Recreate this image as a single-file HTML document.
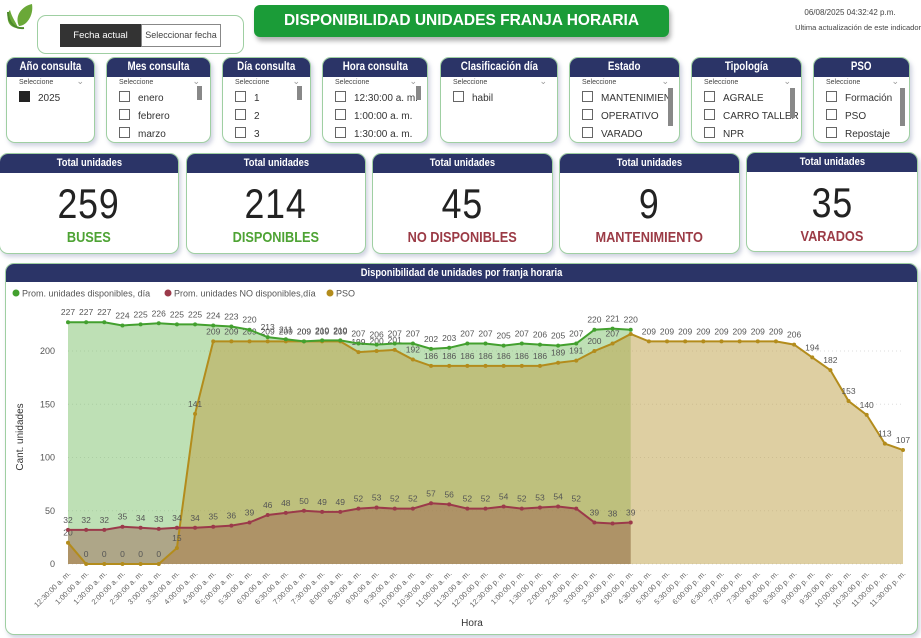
<!DOCTYPE html>
<html><head><meta charset="utf-8">
<style>
body{margin:0;width:921px;height:638px;background:#fff;font-family:"Liberation Sans",sans-serif;position:relative;overflow:hidden}
.abs{position:absolute}
.card{position:absolute;border:1px solid #9fcfa2;border-radius:9px;background:#fff;box-shadow:2px 3px 4px rgba(120,130,170,.35);overflow:hidden}
.hdr{background:#2b3467;color:#fff;font-weight:bold;text-align:center}
.sq{display:inline-block;transform:scaleX(.85)}
.sl .hdr{height:19px;line-height:19px;font-size:11.5px}
.sel{font-size:7px;color:#444;margin:2px 0 0 12px;position:relative}
.sel:after{content:"⌄";position:absolute;right:10px;top:-3px;color:#999;font-size:9px}
.it{font-size:10px;color:#333;margin:5px 0 0 12px;height:13px;line-height:13px;white-space:nowrap}
.cb{display:inline-block;width:9px;height:9px;border:1px solid #666;vertical-align:-1px;margin-right:8px}
.sb{position:absolute;width:5px;background:#888;right:8px}
.kp .hdr{height:19px;line-height:19px;font-size:11px}
.num{text-align:center;font-size:42px;color:#222;margin-top:9px;letter-spacing:1px;line-height:44px}
.lab{text-align:center;font-size:15px;font-weight:bold;margin-top:3px}
</style></head><body>
<svg class="abs" style="left:4px;top:2px" width="30" height="30"><path d="M14 26 C2 26 2 12 6 8 C8 16 12 20 14 26Z" fill="#6aa838"/><path d="M15 24 C10 14 18 4 28 2 C30 14 22 24 15 24Z" fill="#6aa838"/><path d="M4 10 C4 22 12 27 20 26" stroke="#4c8a2a" stroke-width="2" fill="none"/></svg>
<div class="card" style="left:37px;top:15px;width:205px;height:37px;box-shadow:none">
<div class="abs" style="left:22px;top:8px;width:81px;height:23px;background:#333;color:#fff;font-size:9.5px;text-align:center;line-height:23px">Fecha actual</div>
<div class="abs" style="left:103px;top:8px;width:78px;height:21px;border:1px solid #888;color:#444;font-size:9px;text-align:center;line-height:21px">Seleccionar fecha</div>
</div>
<div class="abs" style="left:254px;top:5px;width:415px;height:32px;background:#1b9c38;border-radius:6px;color:#fff;font-weight:bold;font-size:15.5px;text-align:center;line-height:32px;box-shadow:2px 4px 5px rgba(0,0,0,.3)">DISPONIBILIDAD UNIDADES FRANJA HORARIA</div>
<div class="abs" style="left:780px;top:8px;width:140px;text-align:center;font-size:8px;color:#444">06/08/2025 04:32:42 p.m.</div>
<div class="abs" style="left:780px;top:23px;width:141px;text-align:right;font-size:7.5px;color:#444">Ultima actualización de este indicador</div>

<div class="card sl" style="left:6px;top:57px;width:87px;height:84px"><div class="hdr"><span class="sq">Año consulta</span></div><div class="sel">Seleccione</div><div class="it"><span class="cb" style="background:#222;border-color:#222"></span>2025</div></div>
<div class="card sl" style="left:106px;top:57px;width:103px;height:84px"><div class="hdr"><span class="sq">Mes consulta</span></div><div class="sel">Seleccione</div><div class="sb" style="top:28px;height:14px"></div><div class="it"><span class="cb"></span>enero</div><div class="it"><span class="cb"></span>febrero</div><div class="it"><span class="cb"></span>marzo</div></div>
<div class="card sl" style="left:222px;top:57px;width:87px;height:84px"><div class="hdr"><span class="sq">Día consulta</span></div><div class="sel">Seleccione</div><div class="sb" style="top:28px;height:14px"></div><div class="it"><span class="cb"></span>1</div><div class="it"><span class="cb"></span>2</div><div class="it"><span class="cb"></span>3</div></div>
<div class="card sl" style="left:322px;top:57px;width:104px;height:84px"><div class="hdr"><span class="sq">Hora consulta</span></div><div class="sel">Seleccione</div><div class="sb" style="top:28px;height:14px;right:6px"></div><div class="it"><span class="cb"></span>12:30:00 a. m.</div><div class="it"><span class="cb"></span>1:00:00 a. m.</div><div class="it"><span class="cb"></span>1:30:00 a. m.</div></div>
<div class="card sl" style="left:440px;top:57px;width:116px;height:84px"><div class="hdr"><span class="sq">Clasificación día</span></div><div class="sel">Seleccione</div><div class="it"><span class="cb"></span>habil</div></div>
<div class="card sl" style="left:569px;top:57px;width:109px;height:84px"><div class="hdr"><span class="sq">Estado</span></div><div class="sel">Seleccione</div><div class="sb" style="top:30px;height:38px;right:6px"></div><div class="it"><span class="cb"></span>MANTENIMIEN.</div><div class="it"><span class="cb"></span>OPERATIVO</div><div class="it"><span class="cb"></span>VARADO</div></div>
<div class="card sl" style="left:691px;top:57px;width:109px;height:84px"><div class="hdr"><span class="sq">Tipología</span></div><div class="sel">Seleccione</div><div class="sb" style="top:30px;height:30px;right:6px"></div><div class="it"><span class="cb"></span>AGRALE</div><div class="it"><span class="cb"></span>CARRO TALLER</div><div class="it"><span class="cb"></span>NPR</div></div>
<div class="card sl" style="left:813px;top:57px;width:95px;height:84px"><div class="hdr"><span class="sq">PSO</span></div><div class="sel">Seleccione</div><div class="sb" style="top:30px;height:38px;right:4px"></div><div class="it"><span class="cb"></span>Formación</div><div class="it"><span class="cb"></span>PSO</div><div class="it"><span class="cb"></span>Repostaje</div></div>

<div class="card kp" style="left:-1px;top:153px;width:178px;height:99px"><div class="hdr"><span class="sq">Total unidades</span></div><div class="num"><span class="sq">259</span></div><div class="lab" style="color:#4ea334"><span class="sq">BUSES</span></div></div>
<div class="card kp" style="left:186px;top:153px;width:178px;height:99px"><div class="hdr"><span class="sq">Total unidades</span></div><div class="num"><span class="sq">214</span></div><div class="lab" style="color:#4ea334"><span class="sq">DISPONIBLES</span></div></div>
<div class="card kp" style="left:372px;top:153px;width:179px;height:99px"><div class="hdr"><span class="sq">Total unidades</span></div><div class="num"><span class="sq">45</span></div><div class="lab" style="color:#9b3a45"><span class="sq">NO DISPONIBLES</span></div></div>
<div class="card kp" style="left:559px;top:153px;width:179px;height:99px"><div class="hdr"><span class="sq">Total unidades</span></div><div class="num"><span class="sq">9</span></div><div class="lab" style="color:#9b3a45"><span class="sq">MANTENIMIENTO</span></div></div>
<div class="card kp" style="left:746px;top:152px;width:170px;height:98px"><div class="hdr"><span class="sq">Total unidades</span></div><div class="num"><span class="sq">35</span></div><div class="lab" style="color:#9b3a45"><span class="sq">VARADOS</span></div></div>

<div class="card" style="left:5px;top:263px;width:911px;height:370px">
<div class="hdr" style="height:18px;line-height:18px;font-size:11px"><span class="sq">Disponibilidad de unidades por franja horaria</span></div>
</div>
<svg id="chart" class="abs" style="left:0;top:0" width="921" height="638"></svg>
<script>
const categories=["12:30:00 a. m.","1:00:00 a. m.","1:30:00 a. m.","2:00:00 a. m.","2:30:00 a. m.","3:00:00 a. m.","3:30:00 a. m.","4:00:00 a. m.","4:30:00 a. m.","5:00:00 a. m.","5:30:00 a. m.","6:00:00 a. m.","6:30:00 a. m.","7:00:00 a. m.","7:30:00 a. m.","8:00:00 a. m.","8:30:00 a. m.","9:00:00 a. m.","9:30:00 a. m.","10:00:00 a. m.","10:30:00 a. m.","11:00:00 a. m.","11:30:00 a. m.","12:00:00 p. m.","12:30:00 p. m.","1:00:00 p. m.","1:30:00 p. m.","2:00:00 p. m.","2:30:00 p. m.","3:00:00 p. m.","3:30:00 p. m.","4:00:00 p. m.","4:30:00 p. m.","5:00:00 p. m.","5:30:00 p. m.","6:00:00 p. m.","6:30:00 p. m.","7:00:00 p. m.","7:30:00 p. m.","8:00:00 p. m.","8:30:00 p. m.","9:00:00 p. m.","9:30:00 p. m.","10:00:00 p. m.","10:30:00 p. m.","11:00:00 p. m.","11:30:00 p. m."];
const disponibles=[227,227,227,224,225,226,225,225,224,223,220,213,211,209,210,210,207,206,207,207,202,203,207,207,205,207,206,205,207,220,221,220];
const noDisponibles=[32,32,32,35,34,33,34,34,35,36,39,46,48,50,49,49,52,53,52,52,57,56,52,52,54,52,53,54,52,39,38,39];
const pso=[20,0,0,0,0,0,15,141,209,209,209,209,209,209,209,209,199,200,201,192,186,186,186,186,186,186,186,189,191,200,207,216,209,209,209,209,209,209,209,209,206,194,182,153,140,113,107];
const yTicks=[0,50,100,150,200];
const NS="http://www.w3.org/2000/svg";
const svg=document.getElementById('chart');
const X0=68,X1=903,Y0=564,YS=1.065;
const x=i=>X0+i*(X1-X0)/(categories.length-1);
const y=v=>Y0-v*YS;
function mk(t,a){const e=document.createElementNS(NS,t);for(const k in a)e.setAttribute(k,a[k]);svg.appendChild(e);return e;}
yTicks.forEach(t=>{
 const g=mk('line',{x1:X0,x2:X1,y1:y(t),y2:y(t),stroke:'#ddd','stroke-dasharray':'1,3'});
 
 
 const l=mk('text',{x:55,y:y(t)+3,'text-anchor':'end','font-size':9,fill:'#555'});
 l.textContent=t;
 
 
});
function area(vals,fill,op,name){
 let d='M'+x(0)+','+Y0;vals.forEach((v,i)=>d+='L'+x(i)+','+y(v));d+='L'+x(vals.length-1)+','+Y0+'Z';
 const p=mk('path',{d:d,fill:fill,'fill-opacity':op});
 
 
}
area(disponibles,'rgb(120,190,100)',0.48,'area-disponibles');
area(pso,'rgb(190,160,70)',0.5,'area-pso');
area(noDisponibles,'rgb(150,80,70)',0.4,'area-no-disponibles');
function line(vals,col,name,skip){
 const p=mk('polyline',{points:vals.map((v,i)=>x(i)+','+y(v)).join(' '),fill:'none',stroke:col,'stroke-width':2});
 
 
 vals.forEach((v,i)=>{
  const c=mk('circle',{cx:x(i),cy:y(v),r:2,fill:col});
  
  
  if(skip&&skip.includes(i))return;
  const t=mk('text',{x:x(i),y:y(v)-7,'text-anchor':'middle','font-size':8.5,fill:'#555'});
  t.textContent=v;
  
  
 });
}
line(pso,'#b38c1c','line-pso',[31]);
line(noDisponibles,'#9b3a4a','line-no-disponibles');
line(disponibles,'#43a02f','line-disponibles');
categories.forEach((c,i)=>{
 const t=mk('text',{x:x(i)+3,y:574,'text-anchor':'end','font-size':7.5,fill:'#666',transform:'rotate(-45 '+(x(i)+3)+' 574)'});
 t.textContent=c;
 
 
});
const xt=mk('text',{x:472,y:626,'text-anchor':'middle','font-size':10,fill:'#333'});xt.textContent='Hora';


const yt=mk('text',{x:23,y:437,'text-anchor':'middle','font-size':10,fill:'#333',transform:'rotate(-90 23 437)'});yt.textContent='Cant. unidades';


const legend=[['Prom. unidades disponibles, día','#43a02f',12],['Prom. unidades NO disponibles,día','#9b3a4a',164],['PSO','#b38c1c',326]];
legend.forEach(l=>{
 const c=mk('circle',{cx:l[2]+4,cy:293,r:3.5,fill:l[1]});
 
 
 const t=mk('text',{x:l[2]+10,y:296.5,'font-size':9,fill:'#555'});t.textContent=l[0];
 
 
});
</script>
</body></html>
